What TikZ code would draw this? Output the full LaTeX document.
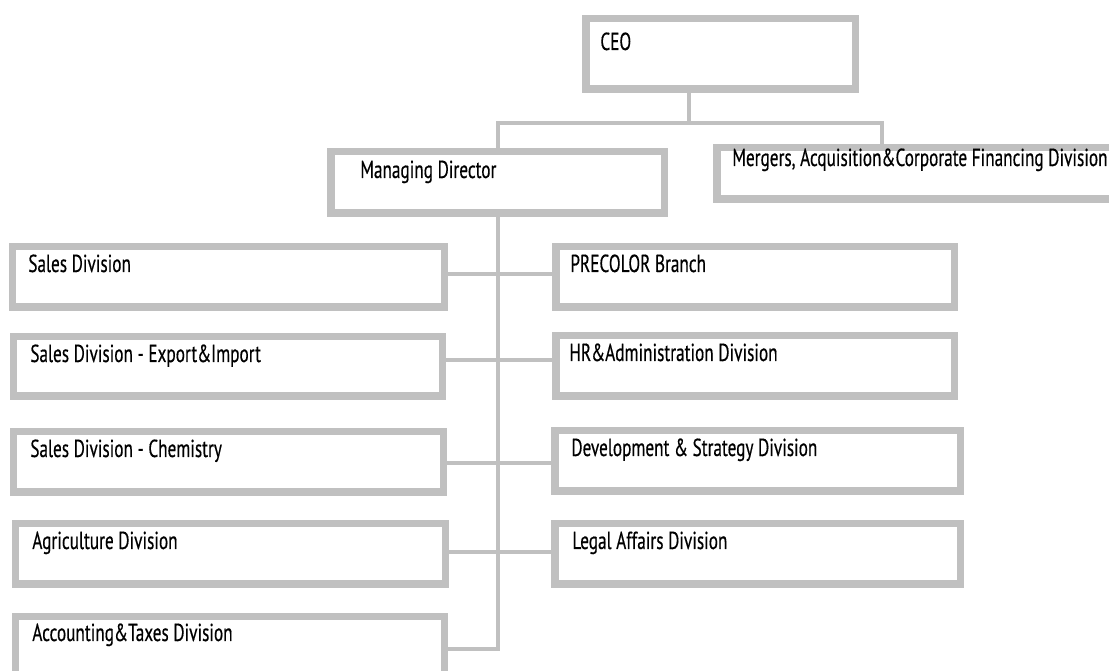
\documentclass[tikz,border=0pt]{standalone}
\usepackage{fontspec}
\setmainfont[FakeStretch=0.70,FakeBold=0.4]{PT Sans}
\usetikzlibrary{fit}
\definecolor{boxgray}{RGB}{192,192,192}
\tikzset{
  orgbox/.style={draw=boxgray, line width=0.15cm, inner sep=0pt, outer sep=0pt},
  orglabel/.style={inner sep=0pt, anchor=base west, font=\fontsize{14}{16}\selectfont, text=black},
  link/.style={draw=boxgray, line width=0.07cm}
}
\newcommand\orgunit[8]{%
  \node[orgbox, fit={(#2+3.75,#3+3.75) (#4-3.75,#5-3.75)}] (#1) {};
  \node[orglabel] (#1-t) at (#6,#7) {#8};
}
\begin{document}
\begin{tikzpicture}[x=0.02cm, y=-0.02cm]
\useasboundingbox (0,0) rectangle (1109,671);
\clip (0,0) rectangle (1109,671);
\orgunit{ceo}{582}{15}{859}{93}{600}{50}{CEO}
\orgunit{md}{327}{148}{668}{217}{360}{178}{Managing Director}
\orgunit{mac}{713}{144}{1125}{203}{732}{166}{Mergers, Acquisition\&Corporate Financing Division}
\orgunit{sales}{9}{243}{448}{311}{28}{272}{Sales Division}
\orgunit{export}{10}{333}{446}{400}{30}{362}{Sales Division - Export\&Import}
\orgunit{chem}{10}{428}{447}{496}{30}{457}{Sales Division - Chemistry}
\orgunit{agri}{12}{520}{449}{588}{32}{549}{Agriculture Division}
\orgunit{acct}{12}{613}{448}{685}{32}{641}{Accounting\&Taxes Division}
\orgunit{precolor}{552}{243}{958}{311}{570}{272}{PRECOLOR Branch}
\orgunit{hr}{552}{332}{958}{400}{569}{361}{HR\&Administration Division}
\orgunit{dev}{551}{427}{964}{495}{571}{456}{Development \& Strategy Division}
\orgunit{legal}{551}{520}{964}{588}{572}{549}{Legal Affairs Division}
% junctions
\coordinate (c0) at (689,123);
\coordinate (m0) at (882,123);
\coordinate (j1) at (498,274);
\coordinate (j2) at (498,360);
\coordinate (j3) at (498,463);
\coordinate (j4) at (498,552);
\coordinate (j5) at (498,649);
% top connectors
\draw[link] (ceo.south -| c0) -- (c0);
\draw[link] (md.north -| j1) |- (m0) -- (mac.north -| m0);
% spine
\draw[link] (md.south -| j1) -- (j5) -- (acct.east |- j5);
\draw[link] (sales.east |- j1) -- (precolor.west |- j1);
\draw[link] (export.east |- j2) -- (hr.west |- j2);
\draw[link] (chem.east |- j3) -- (dev.west |- j3);
\draw[link] (agri.east |- j4) -- (legal.west |- j4);
\end{tikzpicture}
\end{document}
